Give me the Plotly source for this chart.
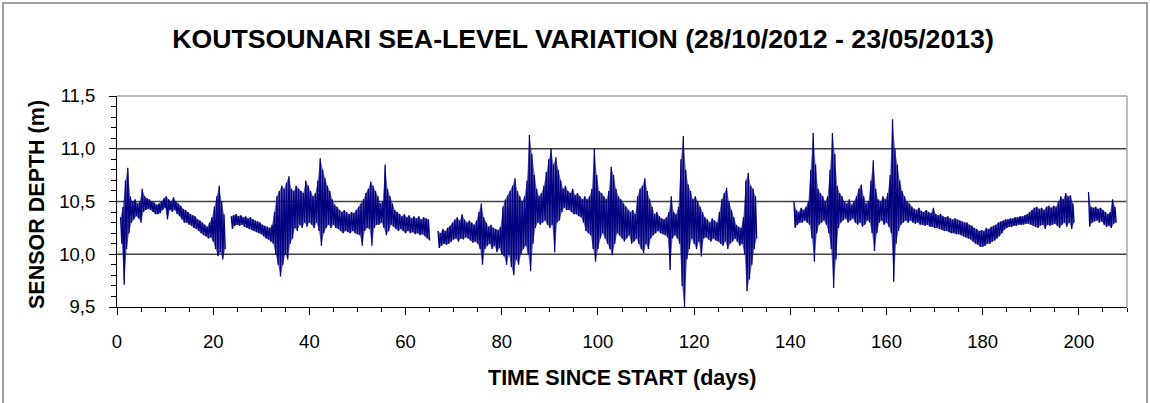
import plotly.graph_objects as go

# ---------------- data ----------------
# Each recorded stretch is described every half day by the upper (hi) and
# lower (lo) edge of the oscillating sensor-depth band, in metres.
step = 0.5

seg1_start = 0.75
seg1_hi = [10.35,10.45,10.70,10.82,10.55,10.50,10.52,10.48,10.50,10.62,10.55,10.53,10.52,10.50,10.49,10.47,10.48,10.50,10.53,10.55,10.52,10.50,10.54,10.50,10.48,10.46,10.43,10.42,10.40,10.38,10.37,10.36,10.33,10.32,10.30,10.28,10.26,10.30,10.35,10.45,10.55,10.65,10.50,10.38]
seg1_lo = [10.10,9.71,10.05,10.20,10.30,10.33,10.36,10.34,10.30,10.40,10.42,10.43,10.42,10.40,10.38,10.38,10.39,10.42,10.44,10.33,10.42,10.40,10.42,10.38,10.36,10.33,10.30,10.30,10.28,10.27,10.25,10.24,10.22,10.20,10.18,10.17,10.15,10.16,10.12,10.05,9.98,10.02,9.95,10.05]

seg2_start = 23.75
seg2_hi = [10.36,10.37,10.38,10.36,10.37,10.35,10.36,10.34,10.35,10.33,10.32,10.31,10.30,10.28,10.27,10.26,10.25,10.28,10.40,10.55,10.60,10.65,10.62,10.68,10.74,10.62,10.60,10.65,10.62,10.60,10.58,10.70,10.65,10.60,10.55,10.58,10.70,10.91,10.80,10.72,10.65,10.60,10.52,10.47,10.45,10.42,10.40,10.42,10.40,10.38,10.40,10.39,10.42,10.45,10.48,10.52,10.58,10.62,10.69,10.65,10.60,10.55,10.48,10.50,10.85,10.62,10.55,10.48,10.42,10.40,10.38,10.36,10.38,10.35,10.37,10.34,10.36,10.34,10.36,10.33,10.35,10.34,10.33]
seg2_lo = [10.24,10.27,10.28,10.27,10.28,10.26,10.25,10.24,10.23,10.22,10.21,10.20,10.19,10.17,10.15,10.14,10.12,10.10,10.00,9.90,9.79,9.90,10.00,9.95,10.10,10.15,10.25,10.22,10.28,10.25,10.30,10.26,10.30,10.28,10.25,10.30,10.22,10.08,10.20,10.25,10.28,10.25,10.28,10.25,10.24,10.22,10.20,10.22,10.21,10.20,10.22,10.20,10.19,10.18,10.08,10.22,10.25,10.24,10.08,10.25,10.28,10.28,10.30,10.25,10.18,10.22,10.28,10.26,10.24,10.22,10.24,10.22,10.20,10.22,10.20,10.21,10.19,10.20,10.18,10.19,10.17,10.15,10.13]

seg3_start = 66.75
seg3_hi = [10.22,10.20,10.24,10.22,10.25,10.27,10.30,10.33,10.35,10.32,10.38,10.33,10.30,10.32,10.30,10.28,10.32,10.40,10.48,10.35,10.30,10.26,10.28,10.25,10.24,10.23,10.26,10.45,10.52,10.56,10.60,10.65,10.72,10.60,10.55,10.50,10.55,10.70,11.13,10.95,10.75,10.62,10.55,10.58,10.65,10.78,10.90,11.00,10.85,10.92,10.80,10.70,10.62,10.65,10.60,10.58,10.62,10.56,10.58,10.55,10.52,10.55,10.52,10.55,10.62,11.00,10.75,10.60,10.58,10.55,10.52,10.60,10.83,10.75,10.62,10.55,10.52,10.48,10.45,10.42,10.40,10.42,10.38,10.55,10.62,10.65,10.72,10.60,10.52,10.45,10.38,10.40,10.36,10.34,10.33,10.35,10.40,10.55,10.40,10.38,10.45,10.90,11.12,10.80,10.66,10.60,10.52,10.55,10.50,10.45,10.40,10.35,10.33,10.30,10.34,10.32,10.30,10.40,10.52,10.58,10.63,10.50,10.42,10.35,10.28,10.26,10.25,10.35,10.70,10.77,10.65,10.62,10.55]
seg3_lo = [10.06,10.08,10.10,10.09,10.10,10.12,10.14,10.15,10.12,10.15,10.14,10.16,10.15,10.13,10.11,10.12,10.10,10.05,9.90,10.05,10.08,10.10,10.05,10.08,10.02,10.06,10.00,9.98,9.90,10.00,9.88,9.80,9.95,9.90,10.00,10.05,10.08,10.00,9.84,10.10,10.25,10.30,10.28,10.30,10.32,10.28,10.25,10.28,10.02,10.30,10.32,10.40,10.44,10.42,10.42,10.40,10.38,10.38,10.36,10.35,10.30,10.22,10.20,10.18,10.05,9.93,10.05,10.15,10.20,10.15,10.10,10.05,9.99,10.10,10.20,10.18,10.15,10.12,10.15,10.18,10.10,10.12,10.15,10.10,10.05,10.01,10.10,10.05,10.15,10.18,10.20,10.22,10.20,10.19,10.18,10.16,9.85,10.15,10.18,10.15,10.10,9.70,9.50,9.95,10.05,10.15,10.10,10.05,10.12,9.98,10.15,10.16,10.14,10.12,10.15,10.13,10.12,10.10,10.08,10.12,10.05,10.10,10.12,10.15,10.12,10.08,10.10,10.00,9.65,9.76,9.90,10.05,10.15]

seg4_start = 140.75
seg4_hi = [10.50,10.42,10.40,10.44,10.42,10.45,10.50,10.80,11.15,10.85,10.62,10.58,10.55,10.50,10.55,10.80,11.15,10.95,10.65,10.58,10.55,10.50,10.48,10.52,10.47,10.50,10.55,10.62,10.66,10.55,10.48,10.50,10.70,10.89,10.62,10.52,10.50,10.55,10.52,10.58,10.75,11.28,11.00,10.85,10.70,10.60,10.55,10.50,10.48,10.45,10.43,10.42,10.44,10.41,10.40,10.42,10.40,10.39,10.44,10.38,10.37,10.38,10.36,10.35,10.36,10.34,10.33,10.34,10.33,10.32,10.31,10.30,10.30,10.28,10.27,10.25,10.24,10.22,10.23,10.22,10.25,10.24,10.26,10.27,10.28,10.30,10.31,10.32,10.33,10.33,10.34,10.34,10.35,10.35,10.36,10.36,10.37,10.38,10.40,10.42,10.44,10.45,10.43,10.44,10.42,10.45,10.46,10.44,10.46,10.45,10.50,10.55,10.52,10.58,10.55,10.56,10.48]
seg4_lo = [10.25,10.28,10.30,10.30,10.32,10.30,10.28,10.15,9.93,10.20,10.28,10.30,10.32,10.28,10.20,10.05,9.68,9.95,10.25,10.30,10.32,10.34,10.30,10.32,10.34,10.30,10.28,10.30,10.26,10.28,10.32,10.30,10.20,10.03,10.20,10.30,10.32,10.28,10.30,10.26,10.20,9.74,10.10,10.22,10.28,10.30,10.32,10.30,10.32,10.30,10.29,10.30,10.28,10.28,10.27,10.28,10.26,10.26,10.25,10.25,10.24,10.23,10.22,10.22,10.21,10.20,10.20,10.19,10.19,10.18,10.17,10.16,10.15,10.14,10.12,10.10,10.09,10.07,10.07,10.08,10.10,10.10,10.12,10.13,10.15,10.17,10.20,10.23,10.25,10.26,10.26,10.27,10.27,10.28,10.28,10.28,10.29,10.29,10.28,10.27,10.26,10.25,10.27,10.28,10.24,10.28,10.27,10.28,10.29,10.27,10.25,10.28,10.30,10.26,10.30,10.24,10.30]

seg5_start = 202.0
seg5_hi = [10.59,10.45,10.44,10.45,10.43,10.44,10.42,10.40,10.38,10.40,10.52,10.45]
seg5_lo = [10.26,10.30,10.31,10.32,10.30,10.31,10.28,10.26,10.27,10.25,10.29,10.30]

segments = [
    (seg1_start, seg1_hi, seg1_lo),
    (seg2_start, seg2_hi, seg2_lo),
    (seg3_start, seg3_hi, seg3_lo),
    (seg4_start, seg4_hi, seg4_lo),
    (seg5_start, seg5_hi, seg5_lo),
]

x_tick_values = [0, 20, 40, 60, 80, 100, 120, 140, 160, 180, 200]
y_grid_values = [10.0, 10.5, 11.0]

NAVY = "#000080"

fig = go.Figure()

# body of each recorded stretch (area between upper and lower edge)
for start, hi, lo in segments:
    n = min(len(hi), len(lo))
    th = [start + step * i for i in range(n)]
    tl = [start + step * i + step / 2 for i in range(n)]
    fig.add_trace(go.Scatter(
        x=th + tl[::-1], y=list(hi[:n]) + list(lo[:n])[::-1],
        mode="lines", fill="toself", fillcolor="rgba(0,0,128,0.6)",
        line=dict(width=0, color=NAVY), hoverinfo="skip", showlegend=False,
    ))

# oscillating record drawn as a line over the body
t_all, d_all = [], []
for start, hi, lo in segments:
    for i, (h, l) in enumerate(zip(hi, lo)):
        t = start + step * i
        t_all += [t, t + step / 2]
        d_all += [h, l]
    t_all.append(None)   # data gap between recording stretches
    d_all.append(None)

fig.add_trace(go.Scatter(
    x=t_all, y=d_all, mode="lines",
    line=dict(color=NAVY, width=1.3),
    connectgaps=False, hoverinfo="skip", showlegend=False,
))

W, H = 1150, 403
L, R, T, B = 117, 23, 96, 96
pw, ph = W - L - R, H - T - B

def px_x(p):
    return (p - L) / pw

def px_y(p):
    return (H - B - p) / ph

shapes = []
for g in y_grid_values:
    shapes.append(dict(type="line", xref="paper", yref="y", x0=0, x1=1, y0=g, y1=g,
                       line=dict(color="#404040", width=1.5), layer="below"))
shapes.append(dict(type="line", xref="paper", yref="paper", x0=0, x1=1, y0=1, y1=1,
                   line=dict(color="#a6a6a6", width=1.5)))
shapes.append(dict(type="line", xref="paper", yref="paper", x0=1, x1=1, y0=0, y1=1,
                   line=dict(color="#a6a6a6", width=1.5)))
shapes.append(dict(type="rect", xref="paper", yref="paper",
                   x0=px_x(3), x1=px_x(1147), y0=px_y(410), y1=px_y(3),
                   line=dict(color="#808080", width=1.5), fillcolor="rgba(0,0,0,0)"))

font_family = "Liberation Sans, Arial, Helvetica, sans-serif"

fig.update_layout(
    width=W, height=H,
    margin=dict(l=L, r=R, t=T, b=B),
    paper_bgcolor="white", plot_bgcolor="white",
    separators=", ",
    font=dict(family=font_family, color="black"),
    showlegend=False,
    title=dict(
        text="<b>KOUTSOUNARI SEA-LEVEL VARIATION (28/10/2012 - 23/05/2013)</b>",
        x=583 / W, xanchor="center", xref="container",
        y=1 - 39 / H, yanchor="middle", yref="container",
        font=dict(size=26.7, family=font_family, color="black"),
    ),
    xaxis=dict(
        range=[0, 210], tickmode="array", tickvals=x_tick_values,
        ticks="outside", ticklen=7, tickcolor="black", tickwidth=1,
        minor=dict(dtick=5, tick0=0, ticks="outside", ticklen=4, tickcolor="black", showgrid=False),
        showline=True, linecolor="black", linewidth=1,
        showgrid=False, zeroline=False,
        tickfont=dict(size=18.5, family=font_family, color="black"),
        ticklabelstandoff=11,
    ),
    yaxis=dict(
        range=[9.5, 11.5], tick0=9.5, dtick=0.5, tickformat=".1f",
        ticks="outside", ticklen=7, tickcolor="black", tickwidth=1,
        minor=dict(dtick=0.1, tick0=9.5, ticks="outside", ticklen=5, tickcolor="black", showgrid=False),
        showline=True, linecolor="black", linewidth=1,
        showgrid=False, zeroline=False,
        tickfont=dict(size=18.5, family=font_family, color="black"),
        ticklabelstandoff=10,
    ),
    shapes=shapes,
    annotations=[
        dict(text="<b>TIME SINCE START (days)</b>", xref="paper", yref="paper",
             x=0.5, y=px_y(378), xanchor="center", yanchor="middle", showarrow=False,
             font=dict(size=21.5, family=font_family, color="black")),
        dict(text="<b>SENSOR DEPTH (m)</b>", xref="paper", yref="paper", textangle=-90,
             x=px_x(37), y=px_y(205), xanchor="center", yanchor="middle", showarrow=False,
             font=dict(size=21.5, family=font_family, color="black")),
    ],
)

fig.write_html("out.html")
